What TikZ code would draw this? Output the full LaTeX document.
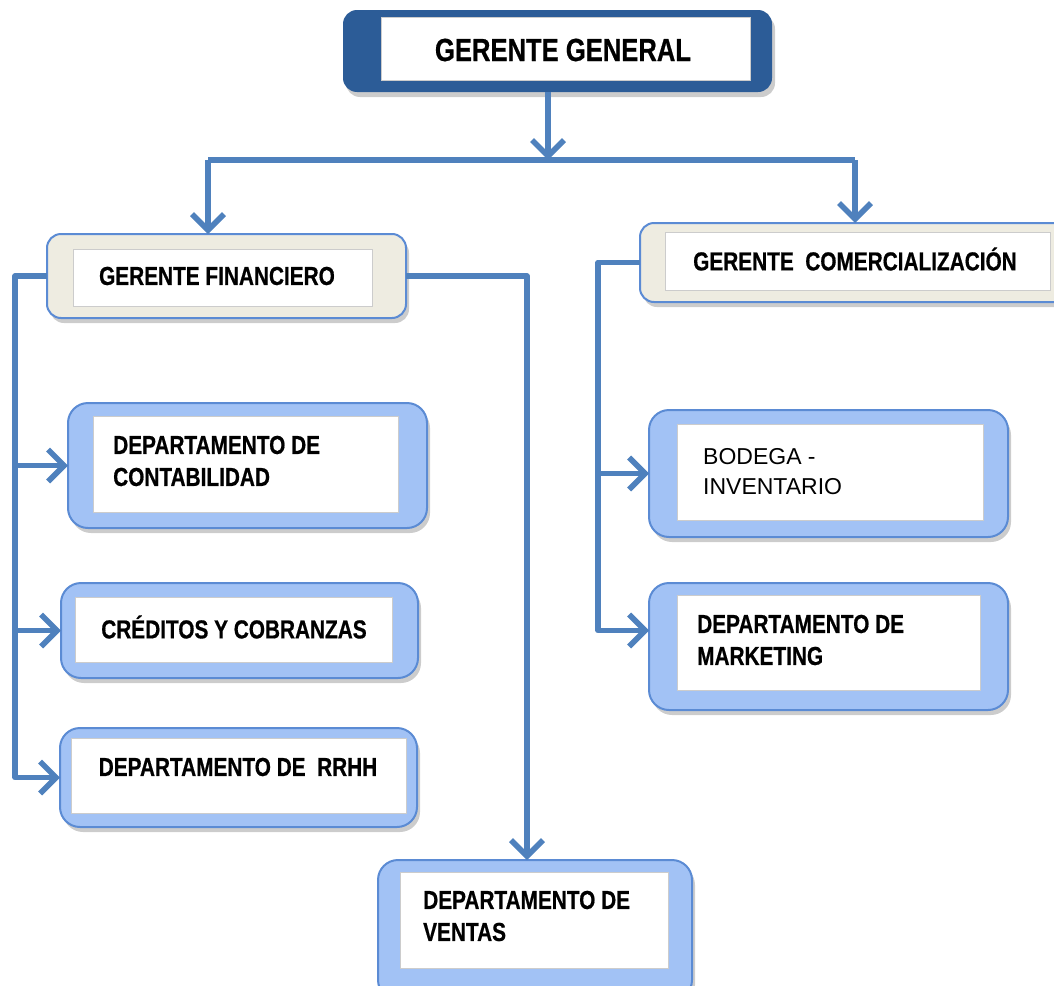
\documentclass[tikz,border=0pt]{standalone}
\usepackage{fontspec}
\setmainfont{Liberation Sans}
\newfontfamily\narrowbf[FakeStretch=0.8,FakeBold=0.6]{Liberation Sans Bold}
\usetikzlibrary{arrows.meta,shadows,calc}
\definecolor{lineblue}{HTML}{4F81BD}
\definecolor{ggblue}{HTML}{2C5C97}
\definecolor{beige}{HTML}{EEECE1}
\definecolor{deptblue}{HTML}{A2C2F5}
\definecolor{edgeblue}{HTML}{5B8BD4}
\tikzset{
  shad/.style={drop shadow={opacity=0.4, shadow xshift=3pt, shadow yshift=-5pt}},
  ggbox/.style={shape=rectangle, fill=ggblue, rounded corners=14pt, inner sep=0pt, outer sep=0pt, shad},
  mgrbox/.style={shape=rectangle, fill=beige, draw=edgeblue, line width=2pt, rounded corners=14pt, inner sep=0pt, outer sep=0pt, shad},
  deptbox/.style={shape=rectangle, fill=deptblue, draw=edgeblue, line width=2pt, rounded corners=20pt, inner sep=0pt, outer sep=0pt, shad},
  inbox/.style={shape=rectangle, fill=white, draw=black!20, line width=1pt, inner sep=0pt},
  bt/.style={font=\narrowbf\fontsize{26}{32}\selectfont, inner sep=0pt, align=left, text=black},
  ggt/.style={font=\narrowbf\fontsize{32}{38}\selectfont, inner sep=0pt, text=black},
  rt/.style={font=\fontsize{23}{30}\selectfont, inner sep=0pt, align=left, text=black},
  conn/.style={draw=lineblue, line width=5.5pt, line join=round},
  arr/.style={conn, -{Straight Barb[length=16pt,width=32pt]}}
}
\begin{document}
\begin{tikzpicture}[x=1pt,y=-1pt]
\useasboundingbox (0,0) rectangle (1054,985);
\clip (0,0) rectangle (1054,985);

% Gerente General
\node[ggbox, minimum width=429pt, minimum height=82pt] (gg) at (557.5,51) {};
\node[inbox, minimum width=369pt, minimum height=63pt] (ggin) at (565.5,48.5) {};
\node[ggt] (ggtxt) at (563,50) {GERENTE GENERAL};

% Gerente Financiero
\node[mgrbox, minimum width=359pt, minimum height=84pt] (gf) at (226.5,276) {};
\node[inbox, minimum width=299pt, minimum height=57pt] (gfin) at (222.5,277.5) {};
\node[bt] (gftxt) at (217,276) {GERENTE FINANCIERO};

% Gerente Comercializacion
\node[mgrbox, minimum width=430pt, minimum height=79pt] (gc) at (855,262.5) {};
\node[inbox, minimum width=385pt, minimum height=58pt] (gcin) at (857.5,261) {};
\node[bt] (gctxt) at (855,259) {GERENTE\ \ COMERCIALIZACIÓN};

% Departamento de Contabilidad
\node[deptbox, minimum width=359pt, minimum height=125pt] (cont) at (247.5,465.5) {};
\node[inbox, minimum width=305pt, minimum height=96pt] (contin) at (245.5,464) {};
\node[bt, anchor=west] (conttxt) at (113,461) {DEPARTAMENTO DE\\CONTABILIDAD};

% Creditos y Cobranzas
\node[deptbox, minimum width=357pt, minimum height=95pt] (cred) at (239.5,630.5) {};
\node[inbox, minimum width=317pt, minimum height=65pt] (credin) at (233.5,629.5) {};
\node[bt] (credtxt) at (234,627) {CRÉDITOS Y COBRANZAS};

% RRHH
\node[deptbox, minimum width=357pt, minimum height=99pt] (rrhh) at (238.5,777.5) {};
\node[inbox, minimum width=335pt, minimum height=75pt] (rrhhin) at (238.5,775.5) {};
\node[bt] (rrhhtxt) at (238,767) {DEPARTAMENTO DE\ \ RRHH};

% Ventas
\node[deptbox, minimum width=314pt, minimum height=140pt] (vent) at (535,930) {};
\node[inbox, minimum width=268pt, minimum height=96pt] (ventin) at (534,920) {};
\node[bt, anchor=west] (venttxt) at (423,916) {DEPARTAMENTO DE\\VENTAS};

% Bodega
\node[deptbox, minimum width=359pt, minimum height=127pt] (bod) at (828.5,473.5) {};
\node[inbox, minimum width=306pt, minimum height=96pt] (bodin) at (830,472) {};
\node[rt, anchor=west] (bodtxt) at (703,472) {BODEGA -\\INVENTARIO};

% Marketing
\node[deptbox, minimum width=359pt, minimum height=127pt] (mkt) at (828.5,646.5) {};
\node[inbox, minimum width=303pt, minimum height=95pt] (mktin) at (828.5,642.5) {};
\node[bt, anchor=west] (mkttxt) at (697,640) {DEPARTAMENTO DE\\MARKETING};

% connectors
\coordinate (hub) at (548,160);
\coordinate (hl) at (208,160);
\coordinate (hr) at (855,160);
\draw[arr] (gg.south -| hub) -- (hub);
\draw[conn] (hl) -- (hr);
\draw[arr] (hl) -- (gf.north -| hl);
\draw[arr] (hr) -- (gc.north -| hr);

\coordinate (lx) at (15,0);
\coordinate (rx) at (527,0);
\coordinate (cx) at (598,0);
\draw[arr] (gf.west) -- (gf.west -| lx) -- (rrhh.west -| lx) -- (rrhh.west);
\draw[arr] (cont.west -| lx) -- (cont.west);
\draw[arr] (cred.west -| lx) -- (cred.west);
\draw[arr] (gf.east) -- (gf.east -| rx) -- (vent.north -| rx);

\coordinate (mkta) at ($(mkt.west)+(0,-16)$);
\draw[arr] (gc.west) -- (gc.west -| cx) -- (mkta -| cx) -- (mkta);
\draw[arr] (bod.west -| cx) -- (bod.west);
\end{tikzpicture}
\end{document}
